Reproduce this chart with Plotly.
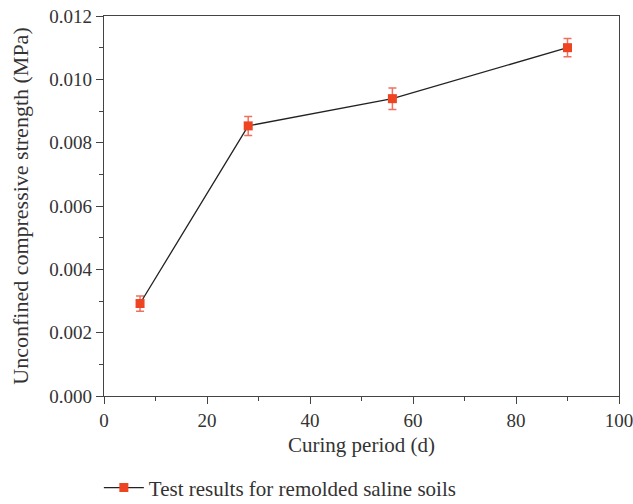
import plotly.graph_objects as go

# Curing period (days) and unconfined compressive strength (MPa)
curing_days = [7, 28, 56, 90]
ucs_mpa = [0.00292, 0.00853, 0.00939, 0.01100]
ucs_err = [0.00024, 0.00030, 0.00034, 0.00029]

series_name = "Test results for remolded saline soils"
x_title = "Curing period (d)"
y_title = "Unconfined compressive strength (MPa)"

font_family = "Liberation Serif, Times New Roman, serif"
ink = "#333333"

fig = go.Figure()
fig.add_trace(go.Scatter(
    x=curing_days,
    y=ucs_mpa,
    mode="lines+markers",
    name=series_name,
    line=dict(color="#222222", width=1.3),
    marker=dict(symbol="square", size=9, color="#EE4422"),
    error_y=dict(type="data", array=ucs_err, visible=True,
                 color="#F07060", thickness=1.5, width=4),
))

axis_common = dict(
    showline=True, linecolor="#444444", linewidth=1.4, mirror=True,
    ticks="outside", ticklen=7, tickwidth=1.3, tickcolor="#444444",
    showgrid=False, zeroline=False, automargin=False,
    ticklabeloverflow="allow",
    tickfont=dict(family=font_family, size=19, color=ink),
)

fig.update_xaxes(
    range=[0, 100], dtick=20, tick0=0,
    minor=dict(ticks="outside", dtick=10, ticklen=4, tickcolor="#444444"),
    title=dict(text=x_title, font=dict(family=font_family, size=21, color=ink), standoff=7),
    **axis_common,
)
fig.update_yaxes(
    range=[0, 0.012], dtick=0.002, tick0=0, tickformat=".3f",
    minor=dict(ticks="outside", dtick=0.001, ticklen=4, tickcolor="#444444"),
    title=dict(text=y_title, font=dict(family=font_family, size=22, color=ink), standoff=14),
    **axis_common,
)

fig.update_layout(
    width=633, height=504,
    margin=dict(l=104, r=14, t=16, b=108, autoexpand=False),
    paper_bgcolor="white", plot_bgcolor="white",
    font=dict(family=font_family, color=ink),
    showlegend=True,
    legend=dict(orientation="h", x=-0.01, xanchor="left", y=-0.242, yanchor="middle",
                font=dict(family=font_family, size=21, color=ink),
                itemwidth=40, bgcolor="rgba(0,0,0,0)"),
)

fig.write_html("out.html")
